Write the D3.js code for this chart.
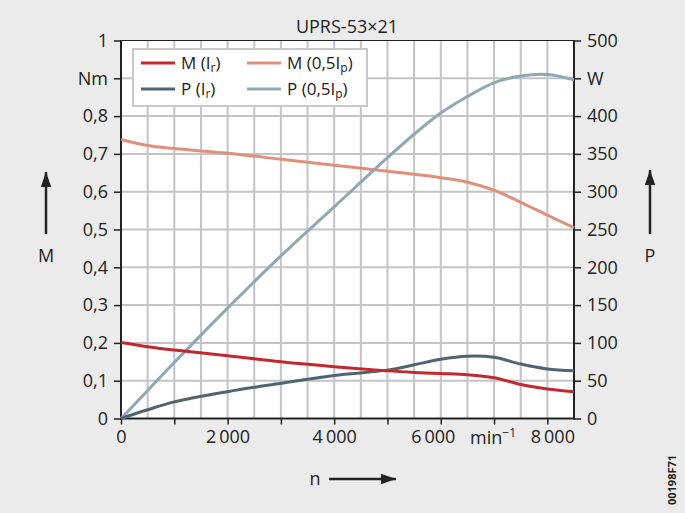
<!DOCTYPE html>
<html>
<head>
<meta charset="utf-8">
<script src="https://cdn.jsdelivr.net/npm/d3@7"></script>
<style>
  body { margin: 0; background: #ebebeb; }
  text { font-family: "Open Sans", "Noto Sans", sans-serif; fill: #222; }
</style>
</head>
<body>
<script>
const rpm = [0, 500, 1000, 2000, 3000, 4000, 5000, 5500, 6000, 6500, 7000, 7500, 8000, 8500]
const torqueRated = [0.201, 0.190, 0.181, 0.166, 0.150, 0.137, 0.126, 0.122, 0.119, 0.116, 0.108, 0.090, 0.078, 0.071]
const torqueHalfPeak = [0.738, 0.722, 0.714, 0.702, 0.686, 0.670, 0.654, 0.646, 0.637, 0.625, 0.604, 0.572, 0.538, 0.505]
const powerRated = [0, 11.5, 22, 35.5, 46.5, 57, 64, 71, 78.5, 82.5, 81, 72, 65.5, 63]
const powerHalfPeak = [0, 37, 74, 146, 215, 280, 345, 376, 404, 426, 444, 453, 455, 448]
const torqueTicks = ["0", "0,1", "0,2", "0,3", "0,4", "0,5", "0,6", "0,7", "0,8", "Nm", "1"]
const powerTicks = ["0", "50", "100", "150", "200", "250", "300", "350", "400", "W", "500"]
const rpmTicks = [0, 2000, 4000, 6000, 8000]

const red = "#c3272f", salmon = "#e0907a", slate = "#4e6571", steel = "#8ea8b4"
const FS = 18

const W = 685, H = 513
const svg = d3.select("body").append("svg").attr("width", W).attr("height", H)

const x = d3.scaleLinear().domain([0, 8500]).range([121, 574])
const yM = d3.scaleLinear().domain([0, 1]).range([418.5, 40.5])
const yP = d3.scaleLinear().domain([0, 500]).range([418.5, 40.5])

// plot background
svg.append("rect").attr("x", x(0)).attr("y", yM(1)).attr("width", x(8500) - x(0)).attr("height", yM(0) - yM(1)).attr("fill", "#fff")

// grid
svg.append("g").selectAll("line").data(d3.range(500, 8500, 500)).join("line")
    .attr("x1", d => x(d)).attr("x2", d => x(d)).attr("y1", yM(0)).attr("y2", yM(1))
    .attr("stroke", "#c4c4c8").attr("stroke-width", 2)
svg.append("g").selectAll("line").data(d3.range(1, 10).map(d => d / 10)).join("line")
    .attr("x1", x(0)).attr("x2", x(8500)).attr("y1", d => yM(d)).attr("y2", d => yM(d))
    .attr("stroke", "#c4c4c8").attr("stroke-width", 2)

// axes
const styleAxis = g => {
    g.select(".domain").remove()
    g.selectAll(".tick line").attr("stroke", "#222").attr("stroke-width", 1.5)
    g.selectAll(".tick text").attr("font-size", FS).attr("fill", "#222")
}
svg.append("g").attr("transform", `translate(${x(0)},0)`)
    .call(d3.axisLeft(yM).tickValues(d3.range(0, 11).map(d => d / 10)).tickSize(7).tickPadding(6)
        .tickFormat((d, i) => torqueTicks[i]))
    .call(styleAxis)
svg.append("g").attr("transform", `translate(${x(8500)},0)`)
    .call(d3.axisRight(yP).tickValues(d3.range(0, 550, 50)).tickSize(7).tickPadding(6)
        .tickFormat((d, i) => powerTicks[i]))
    .call(styleAxis)
svg.append("g").attr("transform", `translate(0,${yM(0)})`)
    .call(d3.axisBottom(x).tickValues(d3.range(0, 9000, 1000)).tickSize(6).tickPadding(6)
        .tickFormat(d => rpmTicks.includes(d) ? d3.format(",")(d).replace(",", "\u2009") : ""))
    .call(styleAxis)
    .call(g => g.selectAll(".tick text").attr("dx", d => d === 6000 ? -8 : d === 8000 ? 5 : 0))

svg.append("text").attr("x", x(7000) - 1).attr("y", 444).attr("text-anchor", "middle").attr("font-size", FS)
    .text("min").append("tspan").attr("dy", -7).attr("font-size", 12).text("\u22121")

// frame
svg.append("rect").attr("x", x(0)).attr("y", yM(1)).attr("width", x(8500) - x(0)).attr("height", yM(0) - yM(1))
    .attr("fill", "none").attr("stroke", "#222").attr("stroke-width", 1)
svg.append("g").selectAll("line").data([x(0), x(8500)]).join("line")
    .attr("x1", d => d).attr("x2", d => d).attr("y1", yM(1)).attr("y2", yM(0) + 1)
    .attr("stroke", "#222").attr("stroke-width", 2)
svg.append("line").attr("x1", x(0) - 1).attr("x2", x(8500) + 1).attr("y1", yM(0)).attr("y2", yM(0))
    .attr("stroke", "#222").attr("stroke-width", 2)

// curves
const series = [
    { vals: torqueHalfPeak, y: yM, color: salmon },
    { vals: powerHalfPeak, y: yP, color: steel },
    { vals: powerRated, y: yP, color: slate },
    { vals: torqueRated, y: yM, color: red }
]
series.forEach(s => {
    const line = d3.line().x((d, i) => x(rpm[i])).y(d => s.y(d)).curve(d3.curveCatmullRom.alpha(0.5))
    svg.append("path").datum(s.vals).attr("d", line)
        .attr("fill", "none").attr("stroke", s.color).attr("stroke-width", 3)
})

// legend
const legend = svg.append("g")
legend.append("rect").attr("x", 133).attr("y", 49).attr("width", 234).attr("height", 57)
    .attr("fill", "#fff").attr("stroke", "#c8c8c8").attr("stroke-width", 2)
const items = [
    { c: red, name: "M (I", sub: "r", tail: ")", lx: 141, ly: 63 },
    { c: salmon, name: "M (0,5I", sub: "p", tail: ")", lx: 247, ly: 63 },
    { c: slate, name: "P (I", sub: "r", tail: ")", lx: 141, ly: 89 },
    { c: steel, name: "P (0,5I", sub: "p", tail: ")", lx: 247, ly: 89 }
]
items.forEach(it => {
    legend.append("line").attr("x1", it.lx).attr("x2", it.lx + 34).attr("y1", it.ly).attr("y2", it.ly)
        .attr("stroke", it.c).attr("stroke-width", 3)
    const t = legend.append("text").attr("x", it.lx + 40).attr("y", it.ly + 6).attr("font-size", 17).text(it.name)
    t.append("tspan").attr("dy", 3).attr("font-size", 12).text(it.sub)
    t.append("tspan").attr("dy", -3).text(it.tail)
})

// title
svg.append("text").attr("x", 347).attr("y", 33).attr("text-anchor", "middle").attr("font-size", FS)
    .text("UPRS-53\u00d721")

// axis names with arrows
const defs = svg.append("defs")
defs.append("marker").attr("id", "arr").attr("viewBox", "0 0 10 10").attr("refX", 10).attr("refY", 5)
    .attr("markerWidth", 6).attr("markerHeight", 6).attr("markerUnits", "strokeWidth").attr("orient", "auto")
    .append("path").attr("d", "M0,1.5L10,5L0,8.5z").attr("fill", "#222")
const arrow = (x1, y1, x2, y2) => svg.append("line").attr("x1", x1).attr("y1", y1).attr("x2", x2).attr("y2", y2)
    .attr("stroke", "#222").attr("stroke-width", 2.5).attr("marker-end", "url(#arr)")
arrow(46, 234, 46, 172)
svg.append("text").attr("x", 46).attr("y", 262).attr("text-anchor", "middle").attr("font-size", FS).text("M")
arrow(650, 234, 650, 170)
svg.append("text").attr("x", 650).attr("y", 262).attr("text-anchor", "middle").attr("font-size", FS).text("P")
arrow(329, 479, 396, 479)
svg.append("text").attr("x", 315).attr("y", 485).attr("text-anchor", "middle").attr("font-size", FS).text("n")

svg.append("text").attr("transform", "translate(676,480) rotate(-90)").attr("text-anchor", "middle")
    .attr("font-size", 11).attr("font-weight", "bold").text("00198F71")
</script>
</body>
</html>
